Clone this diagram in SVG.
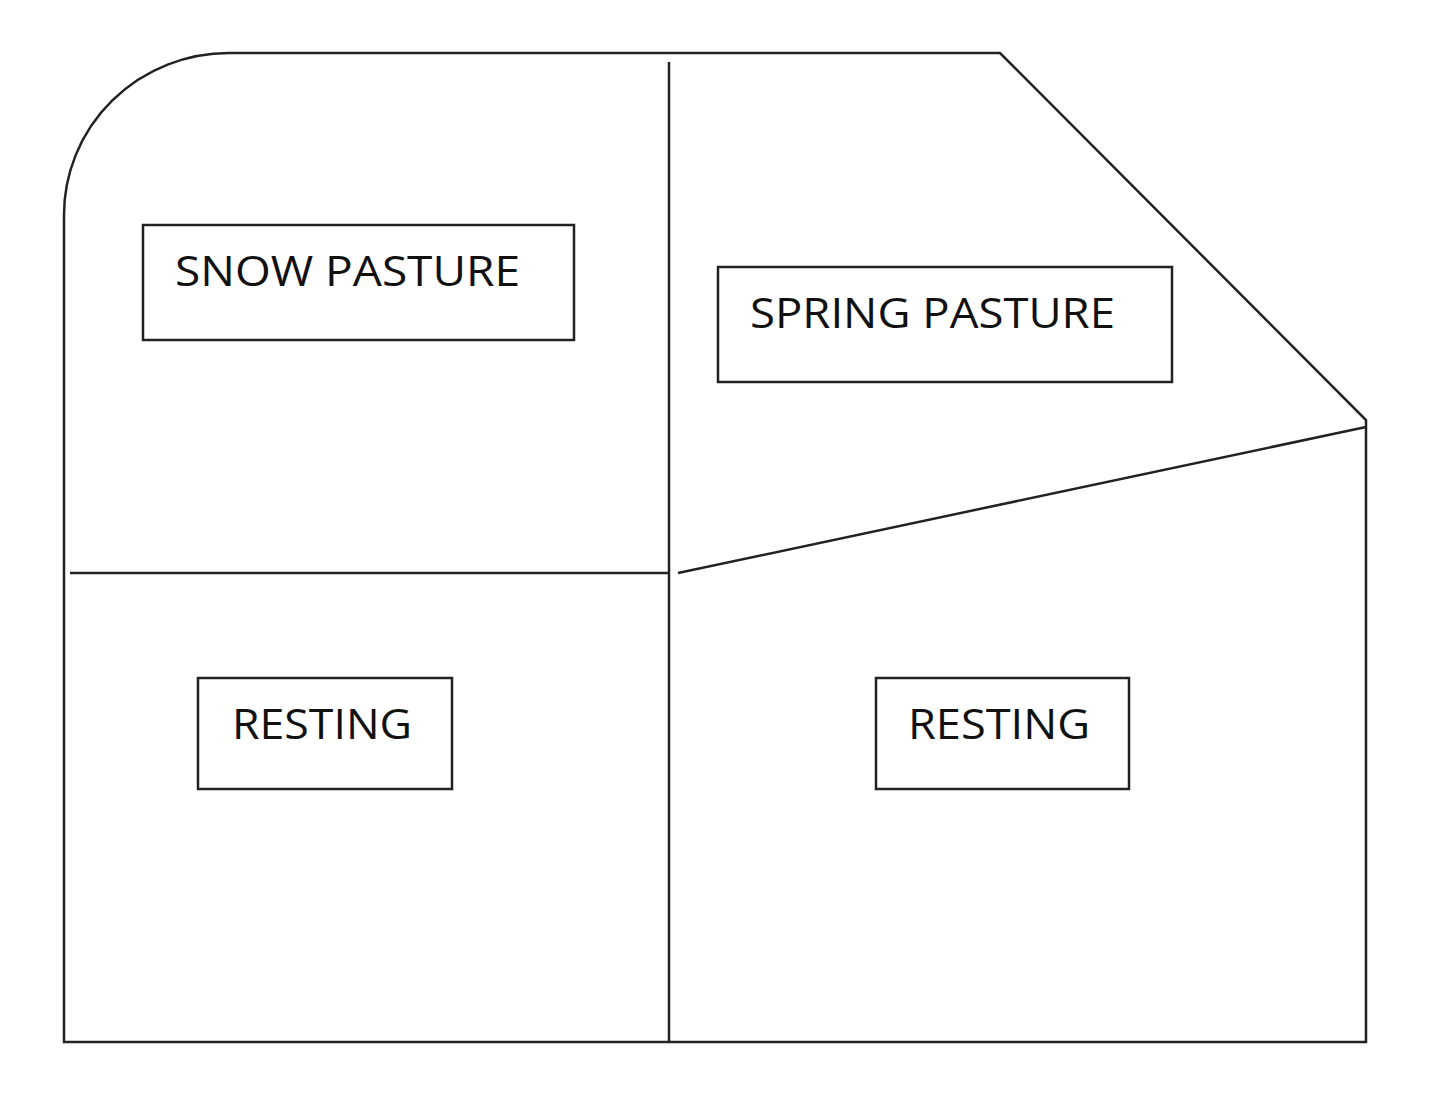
<svg xmlns="http://www.w3.org/2000/svg" width="1440" height="1107" viewBox="0 0 1440 1107">
<style>
.s{fill:none;stroke:#222;stroke-width:2.5}
.b{fill:#fff;stroke:#222;stroke-width:2.5}
.t{font-family:"Open Sans","Liberation Sans",sans-serif;font-size:42px;fill:#111}
</style>
<rect width="1440" height="1107" fill="#fff"/>
<path class="s" d="M64,1042 L64,215 A165,162 0 0 1 229,53 L1000,53 L1366,420 L1366,1042 Z"/>
<line class="s" x1="669" y1="62" x2="669" y2="1042"/>
<line class="s" x1="70" y1="573" x2="669" y2="573"/>
<line class="s" x1="678" y1="573" x2="1366" y2="427"/>
<g id="snow"><rect class="b" x="143" y="225" width="431" height="115"/><text class="t" x="175" y="286" textLength="345" lengthAdjust="spacingAndGlyphs">SNOW PASTURE</text></g>
<g id="spring"><rect class="b" x="718" y="267" width="454" height="115"/><text class="t" x="750" y="328" textLength="365" lengthAdjust="spacingAndGlyphs">SPRING PASTURE</text></g>
<g id="rest1"><rect class="b" x="198" y="678" width="254" height="111"/><text class="t" x="232" y="739" textLength="180" lengthAdjust="spacingAndGlyphs">RESTING</text></g>
<g id="rest2"><rect class="b" x="876" y="678" width="253" height="111"/><text class="t" x="908" y="739" textLength="182" lengthAdjust="spacingAndGlyphs">RESTING</text></g>
</svg>
